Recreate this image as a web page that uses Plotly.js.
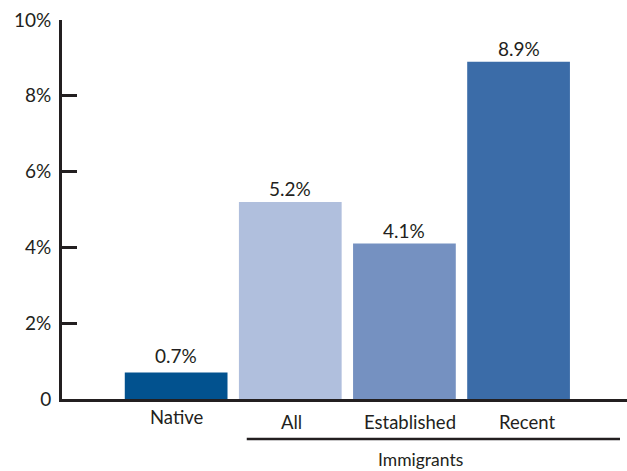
<!DOCTYPE html>
<html>
<head>
<meta charset="utf-8">
<script src="https://cdn.plot.ly/plotly-3.0.1.min.js"></script>
<style>html,body{margin:0;padding:0;background:#fff;}#chart{width:627px;height:471px;}</style>
</head>
<body>
<div id="chart"></div>
<script>
// Data
var categories = ["Native", "All", "Established", "Recent"];
var values = [0.7, 5.2, 4.1, 8.9];
var valueLabels = ["0.7%", "5.2%", "4.1%", "8.9%"];
var yTickVals = [0, 2, 4, 6, 8, 10];
var yTickText = ["0", "2%", "4%", "6%", "8%", "10%"];
var groupLabel = "Immigrants";

var colors = ["#02528F", "#B0BFDD", "#7591C1", "#3B6CA8"];
var ink = "#231f20";
var fontFam = "Lato, 'Open Sans', sans-serif";

var trace = {
  type: "bar",
  x: categories,
  y: values,
  width: 0.9,
  marker: {color: colors, line: {width: 0}},
  hoverinfo: "none"
};

var annotations = [];
// value labels
categories.forEach(function (c, i) {
  annotations.push({
    x: c, y: values[i], xref: "x", yref: "y",
    text: valueLabels[i], showarrow: false,
    yanchor: "middle", yshift: (i === 0 ? 17 : 13),
    font: {family: fontFam, size: 19, color: ink}
  });
});
// category labels
var catXShift = [1, 1, 6, 8];
categories.forEach(function (c, i) {
  annotations.push({
    x: c, y: (i === 0 ? -0.047 : -0.060), xref: "x", yref: "paper",
    text: c, showarrow: false, yanchor: "middle", xshift: catXShift[i],
    font: {family: fontFam, size: 18.5, color: ink}
  });
});
annotations.push({
  x: 0.634, y: -0.160, xref: "paper", yref: "paper",
  text: groupLabel, showarrow: false, yanchor: "middle",
  font: {family: fontFam, size: 17.5, color: ink}
});

var layout = {
  width: 627, height: 471,
  margin: {l: 62, r: 0, t: 20, b: 72, pad: 0},
  paper_bgcolor: "#ffffff", plot_bgcolor: "#ffffff",
  showlegend: false,
  xaxis: {
    type: "category",
    range: [-1.0, 3.95],
    showline: true, linewidth: 3, linecolor: ink,
    showticklabels: false, ticks: "", showgrid: false, zeroline: false,
    fixedrange: true
  },
  yaxis: {
    range: [0, 10],
    tickvals: yTickVals, ticktext: yTickText,
    showline: true, linewidth: 3, linecolor: ink,
    ticks: "inside", ticklen: 15, tickwidth: 3, tickcolor: ink,
    ticklabelstandoff: 4,
    showgrid: false, zeroline: false,
    tickfont: {family: fontFam, size: 19, color: ink},
    fixedrange: true
  },
  shapes: [{
    type: "line", xref: "paper", yref: "paper",
    x0: 0.327, x1: 0.9876, y0: -0.1055, y1: -0.1055,
    line: {color: ink, width: 2.5}
  }],
  annotations: annotations
};

Plotly.newPlot("chart", [trace], layout, {displayModeBar: false, staticPlot: true});
</script>
</body>
</html>
